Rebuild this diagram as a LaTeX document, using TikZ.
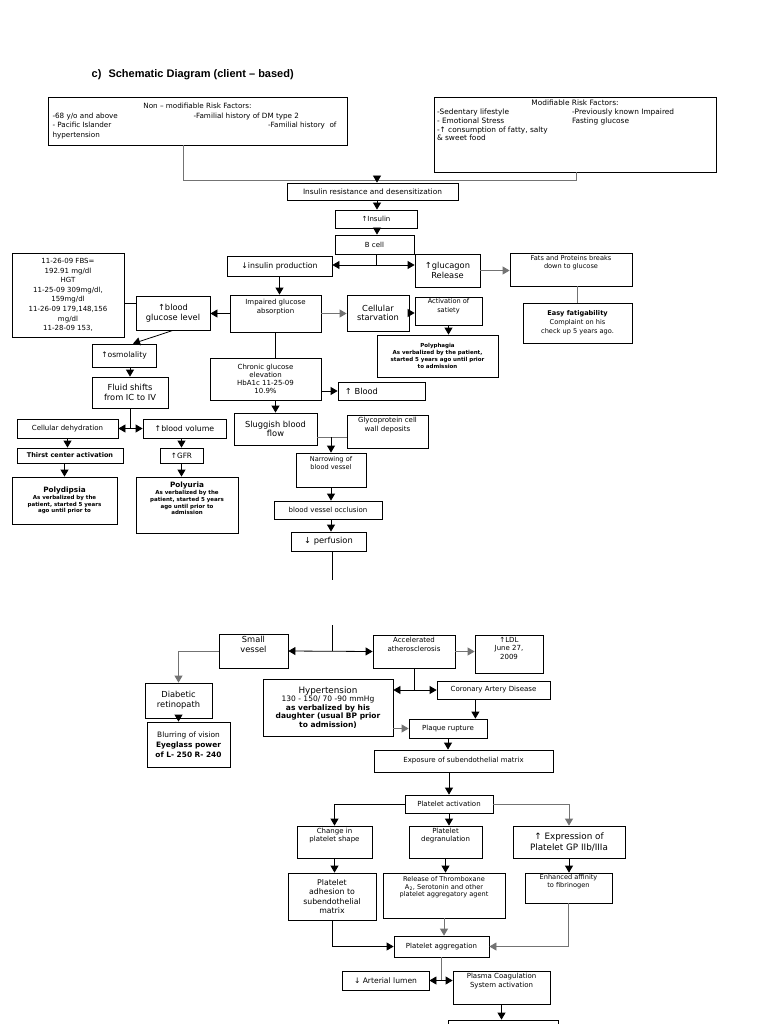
\documentclass[tikz,border=0pt]{standalone}
\usepackage{fontspec}
\setmainfont{DejaVu Sans}
\newfontfamily\titlefont{Liberation Sans}
\usetikzlibrary{arrows.meta}
\tikzstyle{box} = [draw, line width=0.8pt, fill=white, align=center, inner sep=1pt,
   font=\fontsize{7}{8.2}\selectfont]
\tikzstyle{bigbox} = [box, font=\fontsize{8.3}{9.6}\selectfont]
\tikzstyle{notebox} = [box, font=\fontsize{5.5}{6.8}\selectfont\bfseries]
\tikzstyle{arr} = [-{Triangle[width=8pt,length=7pt]}]
\tikzstyle{dblarr} = [{Triangle[width=8pt,length=7pt]}-{Triangle[width=8pt,length=7pt]}]
\tikzstyle{gline} = [draw=black!55]

\begin{document}
\begin{tikzpicture}[x=1pt, y=-1pt, line width=0.8pt]
  \useasboundingbox[fill=white] (0,0) rectangle (768,1024);
  \node[anchor=west, font=\titlefont\fontsize{11}{13}\selectfont\bfseries] (title) at (88,75)
    {c)\hspace{7pt}Schematic Diagram (client – based)};

  % risk factors
  \node[box, font=\fontsize{7.2}{9.6}\selectfont, minimum width=299pt, minimum height=48pt] (nonmod) at (197.5,121)
    {\makebox[290pt][c]{Non – modifiable Risk Factors:}\\
     \makebox[290pt][l]{\makebox[141pt][l]{-68 y/o and above}-Familial history of DM type 2}\\
     \makebox[290pt][l]{- Pacific Islander\hfill -Familial history\ \ of\hspace{6pt}}\\
     \makebox[290pt][l]{hypertension}};
  \node[box, font=\fontsize{7.4}{8.8}\selectfont, inner sep=3pt] (mod) at (575,134.5)
    {\parbox[c][69pt][t]{276pt}{\centering Modifiable Risk Factors:\par\raggedright
     \makebox[135pt][l]{-Sedentary lifestyle}-Previously known Impaired\\
     \makebox[135pt][l]{- Emotional Stress}Fasting glucose\\
     -↑ consumption of fatty, salty\\
     \& sweet food}};

  % insulin chain
  \node[box, font=\fontsize{7.4}{8.4}\selectfont, minimum width=171pt, minimum height=17pt] (insres) at (372.5,191.5) {Insulin resistance and desensitization};
  \node[box, minimum width=82pt, minimum height=18pt] (insulin) at (376,219) {↑Insulin};
  \node[box, minimum width=79pt, minimum height=19pt] (bcell) at (374.5,244.5) {B cell};
  \node[box, font=\fontsize{7.8}{8.8}\selectfont, minimum width=105pt, minimum height=20pt] (insprod) at (279.5,266) {↓insulin production};
  \node[bigbox, minimum width=65pt, minimum height=33pt] (glucagon) at (447.5,270.5) {↑glucagon\\Release};
  \node[box, font=\fontsize{6.6}{7.8}\selectfont, minimum width=122pt, minimum height=33pt] (fats) at (571,269.5) {Fats and Proteins breaks\\down to glucose\\[8pt]};
  \node[box, font=\fontsize{6.6}{9}\selectfont, minimum width=109pt, minimum height=40pt] (fatigue) at (577.5,323)
    {\textbf{Easy fatigability}\\Complaint on his\\check up 5 years ago.};
  \node[bigbox, minimum width=62pt, minimum height=36pt] (starv) at (378,313) {Cellular\\starvation};
  \node[box, font=\fontsize{6.6}{8.2}\selectfont, minimum width=67pt, minimum height=28pt] (satiety) at (448.5,311) {Activation of\\satiety\\[3pt]};
  \node[notebox, minimum width=121pt, minimum height=42pt] (polyphagia) at (437.5,356)
    {Polyphagia\\As verbalized by the patient,\\started 5 years ago until prior\\to admission};
  \node[box, minimum width=91pt, minimum height=37pt] (impaired) at (275.5,313.5) {Impaired glucose\\absorption\\[6pt]};

  % left branch
  \node[bigbox, minimum width=74pt, minimum height=34pt] (bgl) at (173,313) {↑blood\\glucose level};
  \node[box, font=\fontsize{7}{9.6}\selectfont, minimum width=112pt, minimum height=84pt] (lab) at (68,295)
    {11-26-09 FBS=\\192.91 mg/dl\\HGT\\11-25-09 309mg/dl,\\159mg/dl\\11-26-09 179,148,156\\mg/dl\\11-28-09 153,};
  \node[bigbox, font=\fontsize{7.6}{8.6}\selectfont, minimum width=64pt, minimum height=23pt] (osmo) at (124,355.5) {↑osmolality};
  \node[bigbox, minimum width=76pt, minimum height=31pt] (fluid) at (130,392.5) {Fluid shifts\\from IC to IV};
  \node[box, minimum width=101pt, minimum height=19pt] (dehyd) at (67.5,428.5) {Cellular dehydration};
  \node[bigbox, font=\fontsize{7.8}{8.8}\selectfont, minimum width=83pt, minimum height=19pt] (bvol) at (184.5,428.5) {↑blood volume};
  \node[box, font=\fontsize{6.5}{7.6}\selectfont\bfseries, minimum width=106pt, minimum height=15pt] (thirst) at (70,455.5) {Thirst center activation};
  \node[box, font=\fontsize{7.3}{8.2}\selectfont, minimum width=43pt, minimum height=15pt] (gfr) at (181.5,455.5) {↑GFR};
  \node[notebox, minimum width=105pt, minimum height=47pt] (polydipsia) at (64.5,500.5)
    {{\fontsize{7.3}{8.2}\selectfont Polydipsia}\\As verbalized by the\\patient, started 5 years\\ago until prior to};
  \node[notebox, minimum width=102pt, minimum height=56pt] (polyuria) at (187,505)
    {{\fontsize{7.3}{8.2}\selectfont Polyuria}\\As verbalized by the\\patient, started 5 years\\ago until prior to\\admission\\[6pt]};

  % vessel chain
  \node[box, minimum width=111pt, minimum height=42pt] (chronic) at (265.5,379) {Chronic glucose\\elevation\\HbA1c 11-25-09\\10.9\%};
  \node[bigbox, minimum width=87pt, minimum height=18pt] (viscos) at (381.5,391) {↑ Blood\hspace{40pt}};
  \node[bigbox, minimum width=83pt, minimum height=32pt] (sluggish) at (275.5,429) {Sluggish blood\\flow};
  \node[box, minimum width=81pt, minimum height=33pt] (glyco) at (387.5,431.5) {Glycoprotein cell\\wall deposits\\[6pt]};
  \node[box, font=\fontsize{6.6}{7.9}\selectfont, minimum width=70pt, minimum height=34pt] (narrow) at (331,470) {Narrowing of\\blood vessel\\[6pt]};
  \node[box, minimum width=108pt, minimum height=18pt] (occl) at (328,510) {blood vessel occlusion};
  \node[bigbox, minimum width=75pt, minimum height=19pt] (perf) at (328.5,541.5) {↓ perfusion};
  \coordinate (pbot) at (332,580);
  \coordinate (ptop) at (332,625);

  % after the break
  \node[bigbox, minimum width=69pt, minimum height=34pt] (small) at (253.5,651) {Small\\vessel\\[4pt]};
  \node[box, minimum width=82pt, minimum height=33pt] (accel) at (414,651.5) {Accelerated\\atherosclerosis\\[6pt]};
  \node[box, minimum width=68pt, minimum height=38pt] (ldl) at (509,654) {↑LDL\\June 27,\\2009\\[3pt]};
  \node[box, minimum width=113pt, minimum height=18pt] (cad) at (493.5,690) {Coronary Artery Disease};
  \node[box, font=\fontsize{7.5}{8.4}\selectfont, minimum width=130pt, minimum height=57pt] (htn) at (328,707.5)
    {{\fontsize{8.8}{9.8}\selectfont Hypertension}\\130 - 150/ 70 -90 mmHg\\\textbf{as verbalized by his}\\\textbf{daughter (usual BP prior}\\\textbf{to admission)}};
  \node[box, minimum width=78pt, minimum height=19pt] (plaque) at (448,728.5) {Plaque rupture};
  \node[box, minimum width=179pt, minimum height=22pt] (expo) at (463.5,761) {Exposure of subendothelial matrix};
  \node[bigbox, minimum width=67pt, minimum height=35pt] (retino) at (178.5,700.5) {Diabetic\\retinopath};
  \node[bigbox, font=\fontsize{7.4}{9.8}\selectfont, minimum width=83pt, minimum height=45pt] (blur) at (188.5,744.5)
    {Blurring of vision\\\textbf{Eyeglass power}\\\textbf{of L- 250 R- 240}};

  % platelets
  \node[box, minimum width=88pt, minimum height=18pt] (pact) at (449,804) {Platelet activation};
  \node[box, minimum width=75pt, minimum height=32pt] (shape) at (334.5,842) {Change in\\platelet shape\\[6pt]};
  \node[box, minimum width=73pt, minimum height=32pt] (degran) at (445.5,842) {Platelet\\degranulation\\[6pt]};
  \node[bigbox, font=\fontsize{8.8}{10.2}\selectfont, minimum width=112pt, minimum height=32pt] (gp) at (569,842) {↑ Expression of\\Platelet GP IIb/IIIa};
  \node[bigbox, font=\fontsize{7.8}{9.6}\selectfont, minimum width=88pt, minimum height=47pt] (adhesion) at (332,896.5) {Platelet\\adhesion to\\subendothelial\\matrix};
  \node[box, font=\fontsize{6.6}{7.9}\selectfont, minimum width=122pt, minimum height=45pt] (release) at (444,895.5)
    {Release of Thromboxane\\A\textsubscript{2}, Serotonin and other\\platelet aggregatory agent\\[10pt]};
  \node[box, font=\fontsize{6.6}{7.9}\selectfont, minimum width=87pt, minimum height=30pt] (affinity) at (568.5,888) {Enhanced affinity\\to fibrinogen\\[6pt]};
  \node[box, minimum width=95pt, minimum height=21pt] (aggr) at (441.5,946.5) {Platelet aggregation};
  \node[bigbox, font=\fontsize{7.6}{8.6}\selectfont, minimum width=87pt, minimum height=19pt] (lumen) at (385.5,980.5) {↓ Arterial lumen};
  \node[box, minimum width=97pt, minimum height=33pt] (plasma) at (501.5,987.5) {Plasma Coagulation\\System activation\\[6pt]};
  \node[box, minimum width=110pt, minimum height=30pt] (next) at (503,1035) {};

  % connectors
  \coordinate (jl) at (183,180);
  \coordinate (jr) at (576,180);
  \coordinate (jm) at (377,180);
  \draw[gline] (jl |- nonmod.south) -- (jl) -- (jr) -- (jr |- mod.south);
  \draw[arr] (jm) -- (jm |- insres.north);
  \draw[arr] (jm |- insres.south) -- (jm |- insulin.north);
  \draw[arr] (jm |- insulin.south) -- (jm |- bcell.north);
  \coordinate (bj) at (376,265);
  \draw (bj |- bcell.south) -- (bj);
  \draw[dblarr] (insprod.east |- bj) -- (glucagon.west |- bj);
  \draw[arr, gline] (glucagon.east) -- (glucagon.east -| fats.west);
  \draw[gline] (fatigue.north |- fats.south) -- (fatigue.north);
  \draw[arr] (insprod.south) -- (insprod.south |- impaired.north);
  \draw[arr] (impaired.west) -- (impaired.west -| bgl.east);
  \draw[arr, gline] (impaired.east) -- (impaired.east -| starv.west);
  \draw[arr] (starv.east) -- (starv.east -| satiety.west);
  \draw[arr] (satiety.south) -- (satiety.south |- polyphagia.north);
  \draw ([yshift=10pt]bgl.west) -- ([yshift=10pt]bgl.west -| lab.east);
  \draw[arr] (bgl.south) -- ([xshift=9pt]osmo.north);
  \draw[arr] (fluid.north |- osmo.south) -- (fluid.north);
  \coordinate (fj) at (fluid.south |- dehyd.east);
  \draw (fluid.south) -- (fj);
  \draw[dblarr] (dehyd.east) -- (bvol.west);
  \draw[arr] (dehyd.south) -- (dehyd.south |- thirst.north);
  \draw[arr] (polydipsia.north |- thirst.south) -- (polydipsia.north);
  \draw[arr] (gfr.north |- bvol.south) -- (gfr.north);
  \draw[arr] (gfr.south) -- (gfr.south |- polyuria.north);
  \draw (impaired.south) -- (impaired.south |- chronic.north);
  \draw[arr] (viscos.west -| chronic.east) -- (viscos.west);
  \draw[arr] (sluggish.north |- chronic.south) -- (sluggish.north);
  \coordinate (sj) at (331,437);
  \draw[gline] (sluggish.east |- sj) -- (glyco.west |- sj);
  \draw[arr] (sj) -- (narrow.north);
  \draw[arr] (narrow.south) -- (narrow.south |- occl.north);
  \draw[arr] (narrow.south |- occl.south) -- (narrow.south |- perf.north);
  \draw (pbot |- perf.south) -- (pbot);
  \draw (ptop) -- (ptop |- small.east);
  \draw[dblarr] (small.east) -- (accel.west);
  \draw[arr, gline] (small.west) -| (retino.north);
  \draw[arr] (retino.south) -- (retino.south |- blur.north);
  \draw[arr, gline] (accel.east) -- (accel.east -| ldl.west);
  \draw (accel.south) -- (accel.south |- cad.west);
  \draw[dblarr] (htn.east |- cad.west) -- (cad.west);
  \coordinate (cpx) at ([xshift=-12pt]plaque.north east);
  \draw[arr] (cpx |- cad.south) -- (cpx);
  \draw[arr, gline] (htn.east |- plaque.west) -- (plaque.west);
  \draw[arr] (plaque.south) -- (plaque.south |- expo.north);
  \draw[arr] (pact.north |- expo.south) -- (pact.north);
  \draw[arr] (pact.west) -| (shape.north);
  \draw[arr] (pact.south) -- (pact.south |- degran.north);
  \draw[arr, gline] (pact.east) -| (gp.north);
  \draw[arr] (shape.south) -- (shape.south |- adhesion.north);
  \draw[arr] (degran.south) -- (degran.south |- release.north);
  \draw[arr] (gp.south) -- (gp.south |- affinity.north);
  \draw[arr] (adhesion.south) |- (aggr.west);
  \draw[arr, gline] (release.south) -- (release.south |- aggr.north);
  \draw[arr, gline] (affinity.south) |- (aggr.east);
  \draw[gline] (aggr.south) -- (aggr.south |- lumen.east);
  \draw[dblarr] (lumen.east) -- (lumen.east -| plasma.west);
  \draw[arr] (plasma.south) -- (plasma.south |- next.north);
\end{tikzpicture}
\end{document}
